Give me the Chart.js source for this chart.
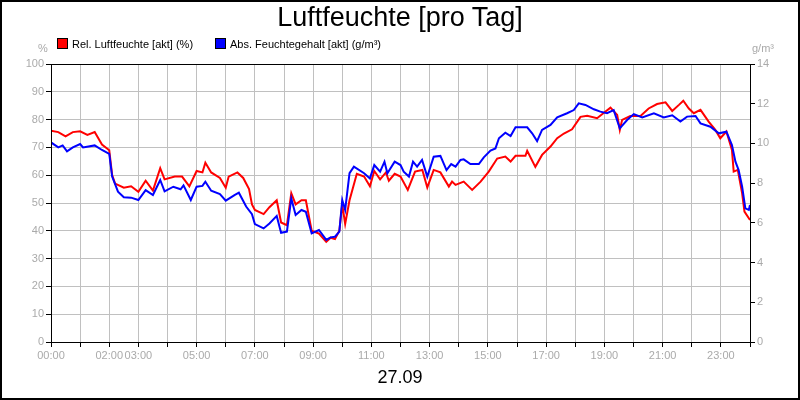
<!DOCTYPE html>
<html><head><meta charset="utf-8">
<script src="https://cdn.jsdelivr.net/npm/chart.js@4"></script>
<style>
body{margin:0;background:#fff;font-family:"Liberation Sans",Arial,sans-serif}
#wrap{position:relative;width:800px;height:400px}
.t{position:absolute;white-space:nowrap}
.box{display:inline-block;width:9px;height:9px;border:1px solid #000;vertical-align:-1px;margin-right:4px}
</style></head><body>
<div id="wrap">
<canvas id="c" width="800" height="400"></canvas>
<div class="t" style="left:0;width:800px;top:2px;text-align:center;font-size:27px">Luftfeuchte [pro Tag]</div>
<div class="t" style="left:57px;top:38px;font-size:11px"><span class="box" style="background:#f00"></span>Rel. Luftfeuchte [akt] (%)</div>
<div class="t" style="left:215px;top:38px;font-size:11px"><span class="box" style="background:#00f"></span>Abs. Feuchtegehalt [akt] (g/m³)</div>
<div class="t" style="left:38px;top:42px;font-size:11px;color:#aaa">%</div>
<div class="t" style="left:752px;top:42px;font-size:11px;color:#aaa">g/m³</div>
<div class="t" style="left:0;width:800px;top:367px;text-align:center;font-size:18px">27.09</div>
</div>
<script>
// hours of day (0..24)
const relHours = [0,0.25,0.5,0.75,1,1.25,1.5,1.75,2,2.1,2.2,2.5,2.75,3,3.25,3.5,3.75,3.9,4.25,4.5,4.75,5,5.2,5.3,5.5,5.8,6,6.1,6.4,6.6,6.8,6.9,7,7.3,7.5,7.75,7.9,8.1,8.25,8.4,8.6,8.75,8.95,9.2,9.45,9.6,9.75,9.9,10,10.1,10.25,10.5,10.75,10.95,11.1,11.3,11.5,11.6,11.8,
  12,12.25,12.5,12.75,12.92,13.14,13.37,13.66,13.77,13.89,14.17,14.46,14.75,15.03,15.32,15.6,15.78,15.95,16.29,16.35,16.63,16.86,17.15,17.38,17.61,17.89,18.18,18.41,18.75,19.04,19.21,19.44,19.53,19.61,19.89,20.24,20.52,20.81,21.1,21.33,21.56,21.71,21.9,22.07,22.3,22.58,22.81,22.98,23.19,23.38,23.44,23.58,23.73,23.81,24];
const relHum = [76,75.5,74,75.5,75.8,74.5,75.5,71,69,60,57,55.5,56,54,58,54.5,62.5,58.5,59.5,59.5,56,61.5,61,64.5,61,59,55.5,59.5,61,59,55,49.5,47.5,46,48.5,51,43,42,53.5,49.5,51,51,40,39,36,37.5,37,40,49.5,42.5,51,60.5,59.5,56,61.5,58.5,61,58,60.5,
  59.5,54.7,61.3,61.9,55.6,61.9,61,55.9,57.7,56.5,57.7,54.7,57.7,61.3,66,66.7,64.9,67,67,68.8,63,67.3,70.3,73.3,75,76.5,81,81.4,80.5,82.9,84.3,81.7,76.3,79.9,81.3,81.3,84,85.6,86.2,83.1,85.3,86.8,84,82.3,83.5,79.3,76.3,73.3,75.7,69.1,61.3,61.9,53.5,46.9,43.9];

const absHours = [0,0.25,0.4,0.55,0.75,1,1.1,1.5,1.75,2,2.1,2.3,2.5,2.75,3,3.25,3.5,3.75,3.9,4.2,4.45,4.55,4.8,5,5.2,5.3,5.5,5.8,6,6.3,6.45,6.7,6.9,7,7.3,7.5,7.75,7.9,8.1,8.25,8.4,8.6,8.75,8.95,9.2,9.45,9.6,9.75,9.9,10,10.1,10.25,10.4,10.75,10.95,11.1,11.3,11.45,11.55,11.8,
  12,12.11,12.29,12.43,12.57,12.74,12.92,13.14,13.37,13.58,13.74,13.89,14.06,14.17,14.4,14.69,14.86,15.09,15.26,15.38,15.6,15.78,15.95,16.18,16.35,16.52,16.69,16.86,17.15,17.38,17.72,17.95,18.12,18.35,18.64,18.86,19.09,19.32,19.53,19.78,20.01,20.3,20.7,21.04,21.33,21.61,21.84,22.13,22.3,22.64,22.93,23.19,23.38,23.5,23.61,23.73,23.84,23.96,24];
const absHum = [10.05,9.8,9.9,9.6,9.8,9.97,9.8,9.9,9.67,9.47,8.33,7.57,7.29,7.27,7.15,7.65,7.4,8.16,7.59,7.82,7.69,7.89,7.15,7.82,7.86,8.07,7.62,7.45,7.12,7.4,7.52,6.82,6.44,5.94,5.72,5.97,6.35,5.5,5.56,7.23,6.4,6.65,6.56,5.47,5.64,5.14,5.27,5.3,5.56,7.15,6.65,8.5,8.83,8.5,8.24,8.91,8.58,9.08,8.5,9.08,
  8.91,8.58,8.33,9.08,8.83,9.17,8.33,9.33,9.37,8.66,8.96,8.83,9.17,9.2,8.96,8.96,9.3,9.64,9.75,10.26,10.54,10.37,10.81,10.81,10.81,10.51,10.12,10.68,10.93,11.31,11.52,11.68,12.02,11.94,11.72,11.6,11.52,11.68,10.76,11.18,11.48,11.31,11.52,11.31,11.42,11.1,11.35,11.38,11.01,10.84,10.51,10.59,9.92,9.08,8.66,7.82,6.73,6.65,6.9];

const hourLabels = [0,2,3,5,7,9,11,13,15,17,19,21,23];

const frame = {id:'frame',afterDraw(ch){const c=ch.ctx,a=ch.chartArea;c.save();c.strokeStyle='#000';c.lineWidth=1;
  c.strokeRect(Math.round(a.left)+0.5,Math.round(a.top)+0.5,Math.round(a.right-a.left),Math.round(a.bottom-a.top));
  c.lineWidth=2;c.strokeRect(1,1,798,398);c.restore();}};

const gray='#aaaaaa';
new Chart(document.getElementById('c'),{
  type:'line',
  data:{datasets:[
    {label:'Abs',data:absHours.map((h,i)=>({x:h,y:absHum[i]})),borderColor:'#0000ff',borderWidth:2,pointRadius:0,yAxisID:'y2'},
    {label:'Rel',data:relHours.map((h,i)=>({x:h,y:relHum[i]})),borderColor:'#ff0000',borderWidth:2,pointRadius:0,yAxisID:'y'}
  ]},
  options:{responsive:false,animation:false,
    layout:{padding:{top:64,left:0,right:0,bottom:0}},
    plugins:{legend:{display:false},tooltip:{enabled:false}},
    scales:{
      x:{type:'linear',min:0,max:24,afterFit(s){s.height=58},
        ticks:{stepSize:1,autoSkip:false,maxRotation:0,color:gray,font:{size:11,family:'Liberation Sans'},padding:2,
          callback:v=>hourLabels.includes(v)?String(v).padStart(2,'0')+':00':''},
        grid:{color:'#c0c0c0',tickLength:5,tickColor:'#000'},border:{color:'#000'}},
      y:{position:'left',min:0,max:100,afterFit(s){s.width=51},
        ticks:{stepSize:10,color:gray,font:{size:11,family:'Liberation Sans'},padding:2},
        grid:{color:'#c0c0c0',tickLength:5,tickColor:'#000'},border:{color:'#000'}},
      y2:{position:'right',min:0,max:14,afterFit(s){s.width=50},
        ticks:{stepSize:2,color:gray,font:{size:11,family:'Liberation Sans'},padding:2},
        grid:{drawOnChartArea:false,tickLength:5,tickColor:'#000'},border:{color:'#000'}}
    }},
  plugins:[frame]
});
</script></body></html>
